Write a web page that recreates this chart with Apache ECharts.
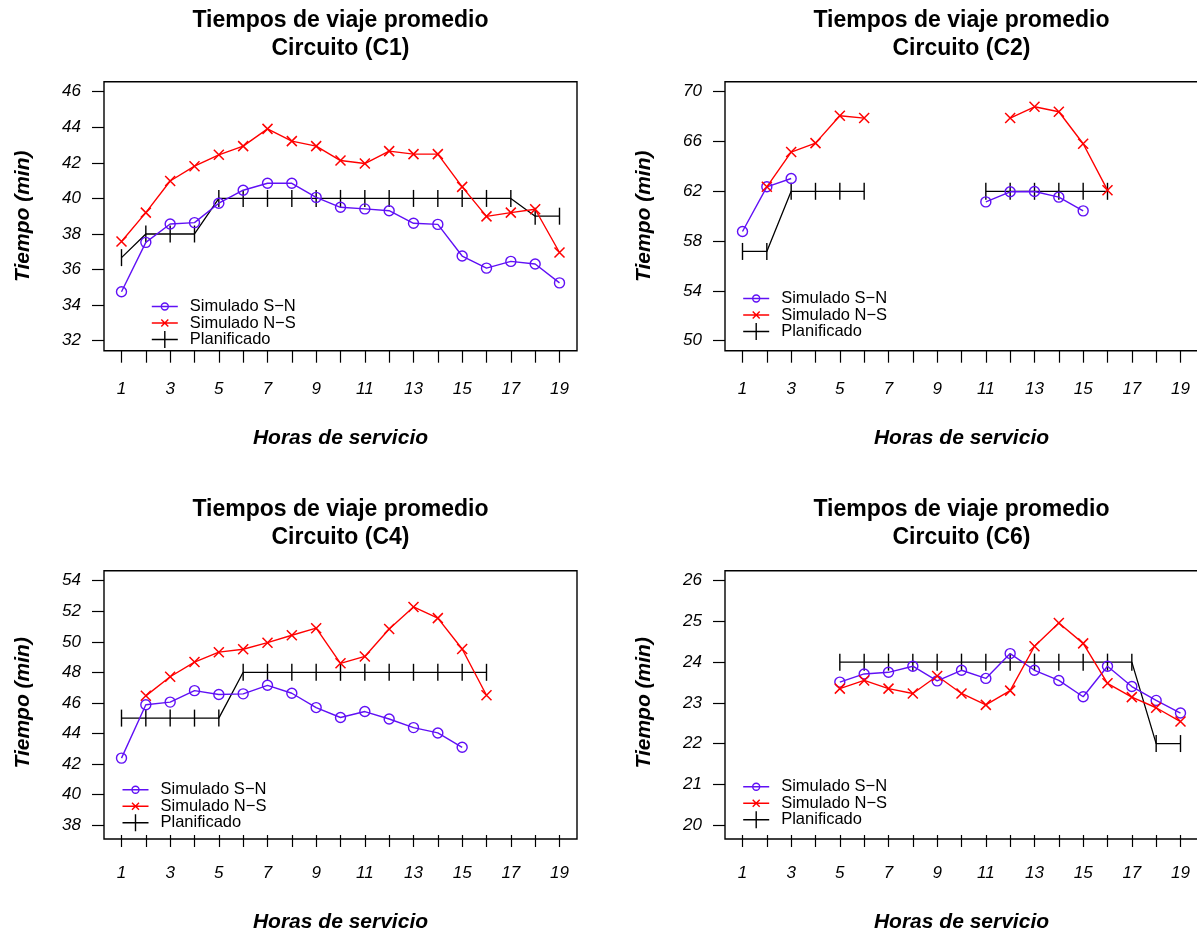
<!DOCTYPE html>
<html><head><meta charset="utf-8">
<script src="https://cdn.jsdelivr.net/npm/echarts@6/dist/echarts.min.js"></script>
<style>html,body{margin:0;padding:0;background:#fff}#c{width:1197px;height:934px}</style>
</head><body><div id="c"></div>
<script>
// ---- data ----
const horas = [1,2,3,4,5,6,7,8,9,10,11,12,13,14,15,16,17,18,19];

const c1SN   = [34.75,37.53,38.56,38.64,39.73,40.46,40.85,40.85,40.06,39.50,39.41,39.31,38.60,38.54,36.76,36.08,36.46,36.31,35.25];
const c1NS   = [37.58,39.20,40.98,41.81,42.45,42.94,43.91,43.22,42.94,42.13,41.96,42.66,42.49,42.49,40.65,38.99,39.20,39.39,36.96];
const c1Plan = [36.67,38,38,38,40,40,40,40,40,40,40,40,40,40,40,40,40,39,39];
const c1YTicks = [32,34,36,38,40,42,44,46];

const c2SN   = [58.77,62.36,63.03,null,null,null,null,null,null,null,61.15,61.96,61.98,61.53,60.43,null,null,null,null];
const c2NS   = [null,62.36,65.15,65.87,68.07,67.88,null,null,null,null,null,67.88,68.79,68.39,65.82,62.09,null,null,null];
const c2Plan = [57.17,57.17,62,62,62,62,null,null,null,null,62,62,62,62,62,62,null,null,null];
const c2YTicks = [50,54,58,62,66,70];

const c4SN   = [42.38,45.88,46.05,46.80,46.55,46.59,47.15,46.63,45.69,45.04,45.43,44.94,44.38,44.03,43.09,null,null,null,null];
const c4NS   = [null,46.46,47.71,48.67,49.32,49.51,49.94,50.43,50.89,48.59,49.04,50.84,52.28,51.55,49.53,46.50,null,null,null];
const c4Plan = [45,45,45,45,45,48,48,48,48,48,48,48,48,48,48,48,null,null,null];
const c4YTicks = [38,40,42,44,46,48,50,52,54];

const c6SN   = [null,null,null,null,23.51,23.71,23.75,23.90,23.54,23.80,23.60,24.21,23.80,23.55,23.15,23.90,23.40,23.06,22.75];
const c6NS   = [null,null,null,null,23.35,23.55,23.35,23.23,23.66,23.23,22.95,23.30,24.39,24.96,24.46,23.48,23.14,22.88,22.54];
const c6Plan = [null,null,null,null,24,24,24,24,24,24,24,24,24,24,24,24,24,22,22];
const c6YTicks = [20,21,22,23,24,25,26];

const xTicks = horas;
const seriesNames = ['Simulado S\u2212N', 'Simulado N\u2212S', 'Planificado'];
const circuitos = ['C1','C2','C4','C6'];

// ---- styling / layout ----
const FONT = '"Liberation Sans", Arial, Helvetica, sans-serif';
const BLUE = '#6010F5', RED = '#FF0000', BLACK = '#000000';
const SYM_CIRCLE = 'path://M10,5A5,5 0 1,1 0,5A5,5 0 1,1 10,5Z';
const SYM_X = 'path://M0,0L10,10M10,0L0,10';
const SYM_BAR = 'path://M5,0L5,10M0,5L0,5M10,5L10,5';
const LEG_SN = 'path://M0,8.5L26,8.5M16.5,8.5A3.5,3.5 0 1,1 9.5,8.5A3.5,3.5 0 1,1 16.5,8.5M0,0L0,0M33,17L33,17';
const LEG_NS = 'path://M0,8.5L26,8.5M9.5,5L16.5,12M16.5,5L9.5,12M0,0L0,0M33,17L33,17';
const LEG_PL = 'path://M0,8.5L26,8.5M13,0L13,17M33,17L33,17';

const layout = [
  {bx:104, gy:91.7,  gh:249,   lx:149.3, ly:295.5},
  {bx:725, gy:91.7,  gh:249,   lx:740.7, ly:287.5},
  {bx:104, gy:580.7, gh:248.3, lx:120,   ly:778.8},
  {bx:725, gy:580.7, gh:248.3, lx:740.7, ly:775.8}
];
const panelData = [
  [c1SN, c1NS, c1Plan, c1YTicks],
  [c2SN, c2NS, c2Plan, c2YTicks],
  [c4SN, c4NS, c4Plan, c4YTicks],
  [c6SN, c6NS, c6Plan, c6YTicks]
];
const BOXW = 473, XIN = 17.5, YIN = 10;

function pairs(arr){ return horas.map((h,k)=>[h, arr[k]==null ? '-' : arr[k]]); }

const grid = [], xAxis = [], yAxis = [], series = [], legend = [], graphic = [];
layout.forEach((L, i) => {
  const [sn, ns, plan, yt] = panelData[i];
  grid.push({left: L.bx + XIN, top: L.gy, width: BOXW - 2*XIN, height: L.gh, containLabel:false});
  xAxis.push({
    type:'value', gridIndex:i, min: xTicks[0], max: xTicks[xTicks.length-1], interval: 1,
    offset: YIN, axisLine:{show:false}, splitLine:{show:false},
    axisTick:{show:true, length:12, lineStyle:{color:BLACK, width:1.2}},
    axisLabel:{margin:30, fontFamily:FONT, fontSize:17, fontStyle:'italic', color:BLACK, lineHeight:17,
      formatter: v => (v % 2 === 1 ? String(v) : '')},
    name:'Horas de servicio', nameLocation:'middle', nameGap:77,
    nameTextStyle:{fontFamily:FONT, fontSize:21, fontWeight:'bold', fontStyle:'italic', color:BLACK, lineHeight:21}
  });
  yAxis.push({
    type:'value', gridIndex:i, min: yt[0], max: yt[yt.length-1], interval: yt[1]-yt[0],
    offset: XIN, axisLine:{show:false}, splitLine:{show:false},
    axisTick:{show:true, length:12, lineStyle:{color:BLACK, width:1.2}},
    axisLabel:{margin:23, fontFamily:FONT, fontSize:17, fontStyle:'italic', color:BLACK},
    name:'Tiempo (min)', nameLocation:'middle', nameGap:70,
    nameTextStyle:{fontFamily:FONT, fontSize:21, fontWeight:'bold', fontStyle:'italic', color:BLACK, lineHeight:21}
  });
  const common = {type:'line', xAxisIndex:i, yAxisIndex:i, clip:false, animation:false, silent:true, showSymbol:true};
  series.push(Object.assign({}, common, {
    name: seriesNames[0], data: pairs(sn), symbol: SYM_CIRCLE, symbolSize: 10, z:3,
    itemStyle:{color:'none', borderColor:BLUE, borderWidth:1.4}, lineStyle:{color:BLUE, width:1.4}
  }));
  series.push(Object.assign({}, common, {
    name: seriesNames[1], data: pairs(ns), symbol: SYM_X, symbolSize: 10, z:3,
    itemStyle:{color:'none', borderColor:RED, borderWidth:1.5}, lineStyle:{color:RED, width:1.4}
  }));
  series.push(Object.assign({}, common, {
    name: seriesNames[2], data: pairs(plan), symbol: SYM_BAR, symbolSize: 17, z:2,
    itemStyle:{color:'none', borderColor:BLACK, borderWidth:1.4}, lineStyle:{color:BLACK, width:1.3}
  }));
  legend.push({
    left: L.lx, top: L.ly, orient:'vertical', padding:0, itemGap:-5.5, itemWidth:33, itemHeight:17,
    selectedMode:false, textStyle:{fontFamily:FONT, fontSize:16.5, color:BLACK, lineHeight:17},
    data:[
      {name: seriesNames[0], icon: LEG_SN, itemStyle:{color:'none', borderColor:BLUE, borderWidth:1.4}},
      {name: seriesNames[1], icon: LEG_NS, itemStyle:{color:'none', borderColor:RED, borderWidth:1.4}},
      {name: seriesNames[2], icon: LEG_PL, itemStyle:{color:'none', borderColor:BLACK, borderWidth:1.4}}
    ]
  });
  const by = L.gy - YIN, bh = L.gh + 2*YIN, cx = L.bx + BOXW/2;
  graphic.push({type:'rect', silent:true, z:100, shape:{x:L.bx, y:by, width:BOXW, height:bh},
    style:{fill:'none', stroke:BLACK, lineWidth:1.4}});
  graphic.push({type:'text', silent:true, x:cx, y:by-61,
    style:{text:'Tiempos de viaje promedio', font:'bold 23px ' + FONT, fill:BLACK, align:'center', verticalAlign:'middle'}});
  graphic.push({type:'text', silent:true, x:cx, y:by-33,
    style:{text:'Circuito (' + circuitos[i] + ')', font:'bold 23px ' + FONT, fill:BLACK, align:'center', verticalAlign:'middle'}});
});

const chart = echarts.init(document.getElementById('c'), null, {renderer:'canvas'});
chart.setOption({
  animation:false, backgroundColor:'#ffffff',
  grid, xAxis, yAxis, series, legend, graphic
});
</script></body></html>
